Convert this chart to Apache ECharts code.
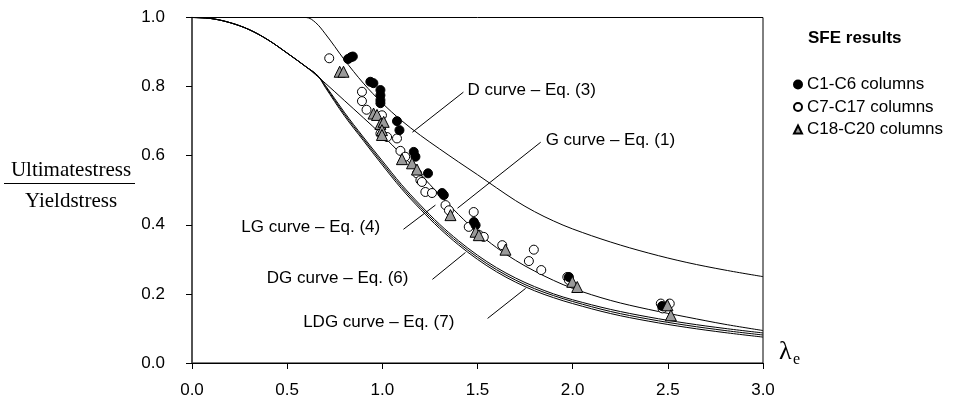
<!DOCTYPE html>
<html>
<head>
<meta charset="utf-8">
<script src="https://cdn.jsdelivr.net/npm/echarts@6/dist/echarts.min.js"></script>
<style>
html,body{margin:0;padding:0;background:#fff;}
#chart{width:955px;height:404px;}
</style>
</head>
<body>
<div id="chart"></div>
<script>
// ---- Data ----
var xTicks = [0, 0.5, 1.0, 1.5, 2.0, 2.5, 3.0];
var yTicks = [0, 0.2, 0.4, 0.6, 0.8, 1.0];

var dLambda = [0, 0.6, 0.65, 0.7, 0.75, 0.8, 0.9, 1.0, 1.1, 1.2, 1.3, 1.4, 1.5, 1.6, 1.7, 1.8, 1.9, 2.0, 2.2, 2.4, 2.6, 2.8, 3.0];
var dCurve  = [1.0, 1.0, 0.985, 0.953, 0.916, 0.878, 0.81, 0.752, 0.702, 0.659, 0.62, 0.582, 0.545, 0.507, 0.47, 0.438, 0.411, 0.388, 0.35, 0.318, 0.291, 0.269, 0.25];

var gLambda = [0, 0.1, 0.2, 0.3, 0.4, 0.5, 0.6, 0.7, 0.8, 0.9, 1.0, 1.1, 1.2, 1.3, 1.4, 1.5, 1.6, 1.7, 1.8, 1.9, 2.0, 2.2, 2.4, 2.6, 2.8, 3.0];
var gCurve   = [1.0, 0.997, 0.985, 0.965, 0.935, 0.897, 0.857, 0.81, 0.76, 0.71, 0.659, 0.604, 0.546, 0.487, 0.43, 0.378, 0.334, 0.297, 0.266, 0.239, 0.216, 0.181, 0.155, 0.133, 0.112, 0.094];

var cLambda  = [0, 0.1, 0.2, 0.3, 0.4, 0.5, 0.6, 0.66, 0.7, 0.8, 0.9, 1.0, 1.1, 1.2, 1.3, 1.4, 1.5, 1.6, 1.7, 1.8, 1.9, 2.0, 2.2, 2.4, 2.6, 2.8, 3.0];
var lgCurve  = [1.0, 0.997, 0.985, 0.965, 0.935, 0.897, 0.857, 0.832, 0.804, 0.726, 0.654, 0.585, 0.517, 0.457, 0.402, 0.354, 0.312, 0.276, 0.246, 0.221, 0.2, 0.183, 0.155, 0.133, 0.115, 0.1, 0.087];
var dgCurve  = [1.0, 0.997, 0.985, 0.965, 0.935, 0.897, 0.857, 0.832, 0.801, 0.721, 0.649, 0.579, 0.511, 0.451, 0.396, 0.348, 0.306, 0.27, 0.24, 0.215, 0.195, 0.178, 0.149, 0.127, 0.109, 0.094, 0.081];
var ldgCurve = [1.0, 0.997, 0.985, 0.965, 0.935, 0.897, 0.857, 0.832, 0.798, 0.716, 0.644, 0.573, 0.505, 0.445, 0.39, 0.342, 0.3, 0.264, 0.234, 0.209, 0.189, 0.172, 0.143, 0.121, 0.103, 0.088, 0.075];

var c1c6 = [
  [0.82,0.88],[0.835,0.885],[0.845,0.887],
  [0.937,0.814],[0.953,0.81],
  [0.99,0.79],[0.99,0.775],[0.99,0.761],[0.99,0.752],
  [1.077,0.70],[1.09,0.674],
  [1.165,0.611],[1.174,0.597],
  [1.24,0.549],
  [1.314,0.492],[1.323,0.486],
  [1.481,0.408],[1.49,0.399],
  [1.98,0.249],
  [2.47,0.165]
];
var c7c17 = [
  [0.721,0.882],
  [0.893,0.785],[0.893,0.758],[0.917,0.733],
  [0.998,0.717],[0.99,0.664],[1.025,0.654],[1.077,0.65],
  [1.095,0.614],[1.12,0.597],
  [1.182,0.549],[1.2,0.529],[1.208,0.524],
  [1.226,0.495],[1.261,0.492],
  [1.332,0.457],[1.35,0.442],
  [1.48,0.437],[1.454,0.394],[1.51,0.37],[1.533,0.365],
  [1.63,0.341],[1.796,0.328],[1.77,0.295],[1.835,0.269],
  [1.972,0.249],[1.98,0.24],
  [2.463,0.172],[2.472,0.158],[2.51,0.172]
];
var c18c20 = [
  [0.776,0.843],[0.796,0.843],
  [0.954,0.722],[0.972,0.718],
  [0.99,0.692],[1.007,0.698],[0.998,0.674],[0.998,0.66],
  [1.103,0.59],[1.156,0.578],[1.182,0.56],
  [1.358,0.428],
  [1.49,0.38],[1.507,0.37],
  [1.647,0.328],
  [1.998,0.235],[2.024,0.22],
  [2.498,0.167],[2.516,0.138]
];

var seriesNames = ['C1-C6 columns', 'C7-C17 columns', 'C18-C20 columns'];

var annotations = [
  {text:'D curve \u2013 Eq. (3)',   at:[1.447,0.789], align:'left',  from:[1.426,0.784], to:[1.158,0.668]},
  {text:'G curve \u2013 Eq. (1)',   at:[1.858,0.645], align:'left',  from:[1.832,0.639], to:[1.395,0.448]},
  {text:'LG curve \u2013 Eq. (4)',  at:[0.989,0.394], align:'right', from:[1.111,0.387], to:[1.279,0.457]},
  {text:'DG curve \u2013 Eq. (6)',  at:[1.137,0.245], align:'right', from:[1.263,0.242], to:[1.437,0.32]},
  {text:'LDG curve \u2013 Eq. (7)', at:[0.584,0.118], align:'left',  from:[1.553,0.129], to:[1.753,0.216]}
];

function zip(xs, ys){ return xs.map(function(x,i){ return [x, ys[i]]; }); }

var SANS = 'Liberation Sans, Arial, Helvetica, sans-serif';
var SERIF = 'Liberation Serif, Times New Roman, serif';

var chart = echarts.init(document.getElementById('chart'), null, {renderer:'canvas'});

function lineSeries(name, xs, ys){
  return {
    name: name, type:'line', data: zip(xs, ys), symbol:'none', smooth:0.35,
    lineStyle:{color:'#000', width:1}, z:2, silent:true, animation:false
  };
}

var option = {
  animation:false,
  backgroundColor:'#fff',
  grid:{left:192, right:192, top:17.5, bottom:41, show:true, borderColor:'#000', borderWidth:1, backgroundColor:'transparent'},
  xAxis:{
    type:'value', min:0, max:3, interval:0.5,
    axisLine:{show:true, lineStyle:{color:'#000', width:1}},
    axisTick:{show:true, inside:false, length:6, lineStyle:{color:'#000'}},
    axisLabel:{formatter:function(v){return v.toFixed(1);}, fontFamily:SANS, fontSize:17, color:'#000', margin:19},
    splitLine:{show:false}
  },
  yAxis:{
    type:'value', min:0, max:1, interval:0.2,
    axisLine:{show:true, lineStyle:{color:'#444', width:1.5}},
    axisTick:{show:true, inside:false, length:6, lineStyle:{color:'#000'}},
    axisLabel:{formatter:function(v){return v.toFixed(1);}, fontFamily:SANS, fontSize:17, color:'#000', margin:27},
    splitLine:{show:false}
  },
  legend:{
    data: seriesNames,
    orient:'vertical', left:788, top:71, itemWidth:8, itemHeight:8, itemGap:5.5,
    textStyle:{fontFamily:SANS, fontSize:17, color:'#000', lineHeight:17}
  },
  series:[
    lineSeries('D', dLambda, dCurve),
    lineSeries('G', gLambda, gCurve),
    lineSeries('LG', cLambda, lgCurve),
    lineSeries('DG', cLambda, dgCurve),
    lineSeries('LDG', cLambda, ldgCurve),
    {name:seriesNames[1], type:'scatter', data:c7c17, symbol:'circle', symbolSize:9,
      itemStyle:{color:'#fff', borderColor:'#000', borderWidth:1, opacity:1}, z:3},
    {name:seriesNames[0], type:'scatter', data:c1c6, symbol:'circle', symbolSize:9,
      itemStyle:{color:'#000', borderColor:'#000', borderWidth:1, opacity:1}, z:4},
    {name:seriesNames[2], type:'scatter', data:c18c20, symbol:'triangle', symbolSize:11,
      itemStyle:{color:'#9a9a9a', borderColor:'#000', borderWidth:1, opacity:1}, z:5}
  ]
};
chart.setOption(option);

// Annotations, axis titles and legend heading
var g = [];
annotations.forEach(function(a){
  var p = chart.convertToPixel({gridIndex:0}, a.at);
  var f = chart.convertToPixel({gridIndex:0}, a.from);
  var t = chart.convertToPixel({gridIndex:0}, a.to);
  g.push({type:'text', x:p[0], y:p[1], z:10, style:{text:a.text, fontFamily:SANS, fontSize:17, fill:'#000', align:a.align, verticalAlign:'middle'}});
  g.push({type:'line', z:10, shape:{x1:f[0], y1:f[1], x2:t[0], y2:t[1]}, style:{stroke:'#000', lineWidth:1}});
});
g.push({type:'text', x:808, y:38, style:{text:'SFE results', fontFamily:SANS, fontSize:17, fontWeight:'bold', fill:'#000', align:'left', verticalAlign:'middle'}});
g.push({type:'text', x:71, y:170, style:{text:'Ultimatestress', fontFamily:SERIF, fontSize:21, fill:'#000', align:'center', verticalAlign:'middle'}});
g.push({type:'line', shape:{x1:4, y1:183.5, x2:135, y2:183.5}, style:{stroke:'#000', lineWidth:1}});
g.push({type:'text', x:71, y:201, style:{text:'Yieldstress', fontFamily:SERIF, fontSize:21, fill:'#000', align:'center', verticalAlign:'middle'}});
g.push({type:'text', x:779, y:352, style:{text:'\u03bb', fontFamily:SERIF, fontSize:26, fill:'#000', align:'left', verticalAlign:'middle'}});
g.push({type:'text', x:793, y:360, style:{text:'e', fontFamily:SERIF, fontSize:16, fill:'#000', align:'left', verticalAlign:'middle'}});
chart.setOption({graphic:g});
</script>
</body>
</html>
